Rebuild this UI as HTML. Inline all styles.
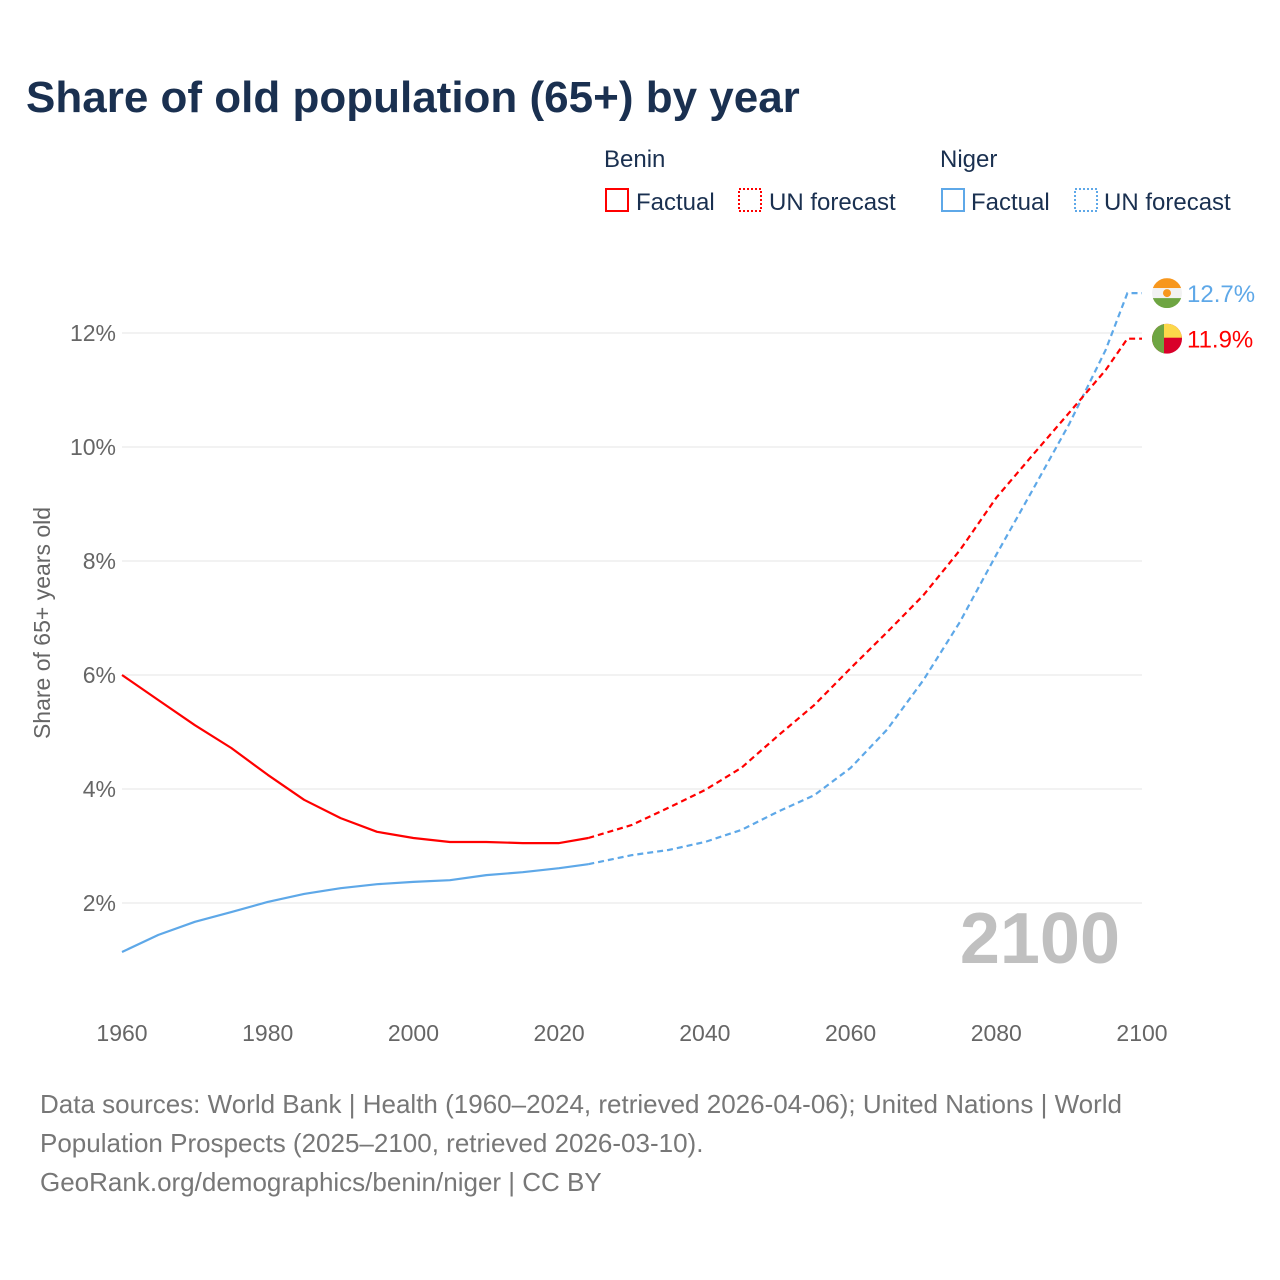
<!DOCTYPE html>
<html><head><meta charset="utf-8">
<style>
body{margin:0;background:#fff;}
svg{display:block;font-family:"Liberation Sans",sans-serif;}
</style></head>
<body>
<svg width="1280" height="1280" viewBox="0 0 1280 1280">
<text x="26" y="112" font-size="44" font-weight="bold" fill="#1a3050">Share of old population (65+) by year</text>
<g font-size="24" fill="#1a3050">
<text x="604" y="167">Benin</text>
<rect x="606" y="189" width="22" height="22" fill="none" stroke="#f00" stroke-width="2"/>
<text x="636" y="210">Factual</text>
<rect x="739" y="189" width="22" height="22" fill="none" stroke="#f00" stroke-width="2" stroke-dasharray="2,2"/>
<text x="769" y="210">UN forecast</text>
<text x="940" y="167">Niger</text>
<rect x="942" y="189" width="22" height="22" fill="none" stroke="#5ea8e8" stroke-width="2"/>
<text x="971" y="210">Factual</text>
<rect x="1075" y="189" width="22" height="22" fill="none" stroke="#5ea8e8" stroke-width="2" stroke-dasharray="2,2"/>
<text x="1104" y="210">UN forecast</text>
</g>
<g id="grid"></g>
<g id="yticks" font-size="23" fill="#666" text-anchor="end"></g>
<g id="xticks" font-size="23" fill="#666" text-anchor="middle"></g>
<text transform="translate(50,623) rotate(-90)" font-size="23" fill="#666" text-anchor="middle">Share of 65+ years old</text>
<text x="1120" y="963" font-size="72" font-weight="bold" fill="#c0c0c0" text-anchor="end">2100</text>
<g id="series"></g>
<g id="ends"></g>
<g font-size="26" fill="#777">
<text x="40" y="1113">Data sources: World Bank | Health (1960–2024, retrieved 2026-04-06); United Nations | World</text>
<text x="40" y="1152">Population Prospects (2025–2100, retrieved 2026-03-10).</text>
<text x="40" y="1191">GeoRank.org/demographics/benin/niger | CC BY</text>
</g>
</svg>
<script>
const years = [1960,1965,1970,1975,1980,1985,1990,1995,2000,2005,2010,2015,2020,2024,2030,2035,2040,2045,2050,2055,2060,2065,2070,2075,2080,2085,2090,2095,2098,2100];
const benin = [6.0,5.56,5.12,4.72,4.25,3.81,3.49,3.25,3.14,3.07,3.07,3.05,3.05,3.14,3.37,3.67,3.98,4.37,4.93,5.47,6.12,6.75,7.40,8.19,9.11,9.86,10.6,11.35,11.9,11.9];
const niger = [1.14,1.44,1.67,1.84,2.02,2.16,2.26,2.33,2.37,2.40,2.49,2.54,2.61,2.68,2.84,2.93,3.07,3.28,3.60,3.89,4.37,5.04,5.91,6.93,8.11,9.25,10.4,11.7,12.7,12.7];
const yTicks = [2,4,6,8,10,12];
const xTicks = [1960,1980,2000,2020,2040,2060,2080,2100];
const lastFactualYear = 2024;

const NS="http://www.w3.org/2000/svg";
const X=y=>122+(y-1960)*(1142-122)/140;
const Y=v=>903-(v-2)*57;
function mk(t,a,p){const e=document.createElementNS(NS,t);for(const k in a)e.setAttribute(k,a[k]);p.appendChild(e);return e;}
const grid=document.getElementById('grid'),yt=document.getElementById('yticks'),xt=document.getElementById('xticks');
yTicks.forEach(v=>{
  const l=mk('line',{x1:122,x2:1142,y1:Y(v),y2:Y(v),stroke:'#e6e6e6','stroke-width':1},grid);
  
  
  const t=mk('text',{x:116,y:Y(v)+8},yt);t.textContent=v+'%';
  
  
});
xTicks.forEach(v=>{
  const t=mk('text',{x:X(v),y:1041},xt);t.textContent=v;
  
  
});
const s=document.getElementById('series');
function draw(vals,color,name){
  let f=[],fc=[];
  years.forEach((y,i)=>{const p=X(y).toFixed(1)+','+Y(vals[i]).toFixed(1);if(y<=lastFactualYear)f.push(p);if(y>=lastFactualYear)fc.push(p);});
  const a=mk('polyline',{points:f.join(' '),fill:'none',stroke:color,'stroke-width':2.2,'stroke-linejoin':'round'},s);
  
  
  const b=mk('polyline',{points:fc.join(' '),fill:'none',stroke:color,'stroke-width':2.2,'stroke-dasharray':'6,4'},s);
  
  
}
draw(niger,'#5ea8e8','niger');
draw(benin,'#f00','benin');
const ends=document.getElementById('ends');
function endLabel(v,color,name,flag){
  const cy=Y(v),cx=1167;
  const g=mk('g',{},ends);
  
  
  g.innerHTML=flag(cx,cy);
  const t=mk('text',{x:1187,y:cy+9,'font-size':24,fill:color},ends);
  t.textContent=v.toFixed(1)+'%';
  
  
}
endLabel(niger[niger.length-1],'#5ea8e8','niger',(cx,cy)=>`<clipPath id="cn"><circle cx="${cx}" cy="${cy}" r="15"/></clipPath><g clip-path="url(#cn)"><rect x="${cx-15}" y="${cy-15}" width="30" height="10" fill="#f7971e"/><rect x="${cx-15}" y="${cy-5}" width="30" height="10" fill="#f2f2f2"/><rect x="${cx-15}" y="${cy+5}" width="30" height="10" fill="#6ea542"/><circle cx="${cx}" cy="${cy}" r="4" fill="#f7971e"/></g>`);
endLabel(benin[benin.length-1],'#f00','benin',(cx,cy)=>`<clipPath id="cb"><circle cx="${cx}" cy="${cy}" r="15"/></clipPath><g clip-path="url(#cb)"><rect x="${cx-15}" y="${cy-15}" width="30" height="30" fill="#d9002a"/><rect x="${cx-3}" y="${cy-15}" width="18" height="14" fill="#fcd84a"/><rect x="${cx-15}" y="${cy-15}" width="12" height="30" fill="#6ea542"/></g>`);
</script>
</body></html>
